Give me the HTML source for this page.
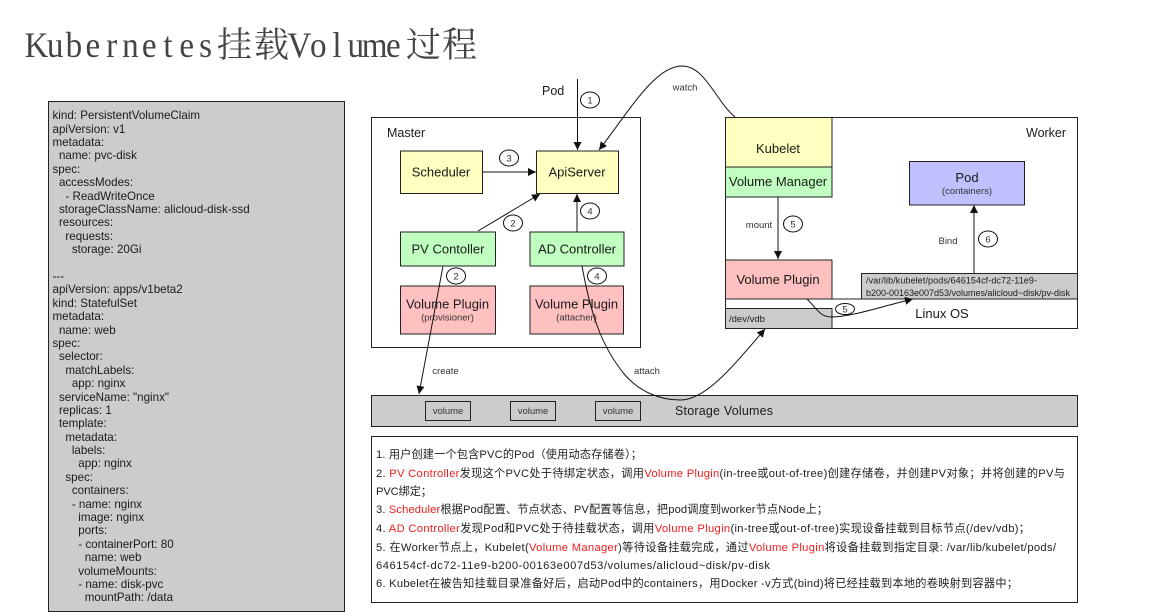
<!DOCTYPE html>
<html><head><meta charset="utf-8"><style>
html,body{margin:0;padding:0;background:#fff;width:1159px;height:615px;overflow:hidden}
svg{position:absolute;left:0;top:0}
text{font-family:"Liberation Sans","Noto Sans CJK SC",sans-serif;fill:#1a1a1a}
.b{stroke:#222;stroke-width:1;shape-rendering:crispEdges}
.l{fill:none;stroke:#111;stroke-width:1}
.t{font-size:13px;text-anchor:middle}
.s{font-size:9.5px;text-anchor:middle;fill:#333}
.n{font-size:9.5px;text-anchor:middle;fill:#333}
.c{fill:#fff;stroke:#111;stroke-width:1}
.p{font-size:11.2px;fill:#222}
.r{fill:#f01c1c}
pre{position:absolute;left:52.5px;top:109.3px;margin:0;font:11.6px/13.39px "Liberation Sans",sans-serif;color:#1a1a1a}
</style></head><body>
<svg width="1159" height="615" viewBox="0 0 1159 615" xmlns="http://www.w3.org/2000/svg">
<defs><marker id="a" markerWidth="9" markerHeight="8" refX="8" refY="4" orient="auto" markerUnits="userSpaceOnUse"><path d="M0 0L8 4L0 8Z" fill="#111"/></marker></defs>

<g transform="scale(.92 1)">
<text y="57" text-anchor="middle" style="font-family:'Liberation Serif',serif;font-size:36px;fill:#444" x="39.6 60 80.4 100.9 121.3 141.7 162.2 182.6 203 223.5">Kubernetes</text>
<text y="57" text-anchor="middle" style="font-family:'Liberation Serif',serif;font-size:36px;fill:#444" x="325.4 345.9 366.3 386.7 407.2 427.6">Volume</text>
</g>
<text x="217" y="57" textLength="72" style="font-family:'Noto Serif CJK SC',serif;font-size:35px;fill:#444">挂载</text>
<text x="406" y="57" textLength="71" style="font-family:'Noto Serif CJK SC',serif;font-size:35px;fill:#444">过程</text>

<rect class="b" x="48.5" y="101.5" width="296" height="510" fill="#ccc"/>

<rect class="b" x="371.5" y="117.5" width="269" height="230" fill="#fff"/>
<rect class="b" x="400.5" y="151" width="82" height="42.500" fill="#ffffc0"/>
<rect class="b" x="536.5" y="151" width="82" height="42.500" fill="#ffffc0"/>
<rect class="b" x="400.500" y="232" width="95" height="34" fill="#c0ffc0"/>
<rect class="b" x="530" y="232" width="94" height="34" fill="#c0ffc0"/>
<rect class="b" x="400.500" y="286" width="95" height="48" fill="#ffc0c0"/>
<rect class="b" x="530" y="286" width="93.500" height="48" fill="#ffc0c0"/>
<text x="387" y="137" font-size="12.500">Master</text>
<text class="t" x="441" y="176.500">Scheduler</text>
<text class="t" x="577" y="176.500">ApiServer</text>
<text class="t" x="448" y="253.500">PV Contoller</text>
<text class="t" x="577" y="253.500">AD Controller</text>
<text class="t" x="447.500" y="308.500">Volume Plugin</text>
<text class="s" x="447.500" y="320.500">(provisioner)</text>
<text class="t" x="576.500" y="308.500">Volume Plugin</text>
<text class="s" x="576.500" y="320.500">(attacher)</text>

<rect class="b" x="725.500" y="117.500" width="352" height="211" fill="#fff"/>
<rect class="b" x="725.500" y="117.500" width="106.500" height="49.500" fill="#ffffc0"/>
<rect class="b" x="725.500" y="167" width="106.500" height="30" fill="#c0ffc0"/>
<rect class="b" x="725.500" y="260" width="106.500" height="39" fill="#ffc0c0"/>
<rect class="b" x="725.500" y="308.500" width="106.500" height="20" fill="#ccc"/>
<line class="b" x1="832" y1="299" x2="1077" y2="299"/>
<rect class="b" x="861.500" y="273.500" width="216" height="25.500" fill="#ccc"/>
<rect class="b" x="909.500" y="161.500" width="115" height="43.500" fill="#c0c0ff"/>
<text x="1026" y="137" font-size="12.500">Worker</text>
<text class="t" x="778" y="153">Kubelet</text>
<text class="t" x="778" y="186">Volume Manager</text>
<text class="t" x="778" y="284">Volume Plugin</text>
<text x="729" y="322" font-size="9.500" fill="#333">/dev/vdb</text>
<text class="t" x="967" y="182">Pod</text>
<text class="s" x="967" y="194">(containers)</text>
<text x="866" y="283.500" font-size="9" textLength="171" style="font-family:'Liberation Sans',sans-serif">/var/lib/kubelet/pods/646154cf-dc72-11e9-</text>
<text x="866" y="296" font-size="9" textLength="204" style="font-family:'Liberation Sans',sans-serif">b200-00163e007d53/volumes/alicloud~disk/pv-disk</text>
<text class="t" x="942" y="318">Linux OS</text>

<rect class="b" x="371.500" y="395.500" width="706" height="31" fill="#ccc"/>
<rect class="b" x="425.500" y="401.500" width="45" height="19" fill="none"/>
<rect class="b" x="510.500" y="401.500" width="45" height="19" fill="none"/>
<rect class="b" x="595.500" y="401.500" width="45" height="19" fill="none"/>
<text class="n" x="448" y="414">volume</text>
<text class="n" x="533" y="414">volume</text>
<text class="n" x="618" y="414">volume</text>
<text x="675" y="415" font-size="12.500" textLength="98">Storage Volumes</text>

<path class="l" d="M577.500 79V150" marker-end="url(#a)"/>
<path class="l" d="M735 117C715 100 705 66 682 66C655 66 630 110 599 150" marker-end="url(#a)"/>
<path class="l" d="M482 172H536" marker-end="url(#a)"/>
<path class="l" d="M478 231L540 194" marker-end="url(#a)"/>
<path class="l" d="M577 232V194" marker-end="url(#a)"/>
<path class="l" d="M443 266L419 394" marker-end="url(#a)"/>
<path class="l" d="M582 266C590 310 600 345 625 375C640 392 660 400 680 400C705 400 730 370 765 329" marker-end="url(#a)"/>
<path class="l" d="M778 197V259" marker-end="url(#a)"/>
<path class="l" d="M974 273V205" marker-end="url(#a)"/>
<path class="l" d="M807 299C818 310 820 317 832 317C850 317 880 307 913 299" marker-end="url(#a)"/>

<ellipse class="c" cx="590" cy="100" rx="9.500" ry="8"/><text class="n" x="590" y="103.500">1</text>
<ellipse class="c" cx="509" cy="158" rx="9.500" ry="8"/><text class="n" x="509" y="161.500">3</text>
<ellipse class="c" cx="513" cy="223" rx="9.500" ry="8"/><text class="n" x="513" y="226.500">2</text>
<ellipse class="c" cx="590" cy="211" rx="9.500" ry="8"/><text class="n" x="590" y="214.500">4</text>
<ellipse class="c" cx="456" cy="276" rx="9.500" ry="8"/><text class="n" x="456" y="279.500">2</text>
<ellipse class="c" cx="597" cy="276" rx="9.500" ry="8"/><text class="n" x="597" y="279.500">4</text>
<ellipse class="c" cx="793" cy="224" rx="9.500" ry="8"/><text class="n" x="793" y="227.500">5</text>
<ellipse class="c" cx="988" cy="239" rx="9.500" ry="8"/><text class="n" x="988" y="242.500">6</text>
<ellipse class="c" cx="845" cy="309" rx="9.500" ry="5.500"/><text class="n" x="845" y="312.500">5</text>

<text x="542" y="95" font-size="12.500">Pod</text>
<text class="n" x="685" y="90.500">watch</text>
<text class="n" x="445.500" y="374">create</text>
<text class="n" x="647" y="374">attach</text>
<text class="n" x="759" y="228">mount</text>
<text class="n" x="948" y="244">Bind</text>

<rect class="b" x="371.500" y="436.500" width="706" height="166" fill="#fff"/>
<text class="p" x="376" y="458" textLength="266">1. 用户创建一个包含PVC的Pod（使用动态存储卷）；</text>
<text class="p" x="376" y="477" textLength="689">2. <tspan class="r">PV Controller</tspan>发现这个PVC处于待绑定状态，调用<tspan class="r">Volume Plugin</tspan>(in-tree或out-of-tree)创建存储卷，并创建PV对象；并将创建的PV与</text>
<text class="p" x="376" y="495" textLength="56">PVC绑定；</text>
<text class="p" x="376" y="513" textLength="452">3. <tspan class="r">Scheduler</tspan>根据Pod配置、节点状态、PV配置等信息，把pod调度到worker节点Node上；</text>
<text class="p" x="376" y="532" textLength="654">4. <tspan class="r">AD Controller</tspan>发现Pod和PVC处于待挂载状态，调用<tspan class="r">Volume Plugin</tspan>(in-tree或out-of-tree)实现设备挂载到目标节点(/dev/vdb)；</text>
<text class="p" x="376" y="551" textLength="680">5. 在Worker节点上，Kubelet(<tspan class="r">Volume Manager</tspan>)等待设备挂载完成，通过<tspan class="r">Volume Plugin</tspan>将设备挂载到指定目录: /var/lib/kubelet/pods/</text>
<text class="p" x="376" y="569" textLength="394">646154cf-dc72-11e9-b200-00163e007d53/volumes/alicloud~disk/pv-disk</text>
<text class="p" x="376" y="587" textLength="642">6. Kubelet在被告知挂载目录准备好后，启动Pod中的containers，用Docker -v方式(bind)将已经挂载到本地的卷映射到容器中；</text>
</svg>
<pre>kind: PersistentVolumeClaim
apiVersion: v1
metadata:
  name: pvc-disk
spec:
  accessModes:
    - ReadWriteOnce
  storageClassName: alicloud-disk-ssd
  resources:
    requests:
      storage: 20Gi

---
apiVersion: apps/v1beta2
kind: StatefulSet
metadata:
  name: web
spec:
  selector:
    matchLabels:
      app: nginx
  serviceName: "nginx"
  replicas: 1
  template:
    metadata:
      labels:
        app: nginx
    spec:
      containers:
      - name: nginx
        image: nginx
        ports:
        - containerPort: 80
          name: web
        volumeMounts:
        - name: disk-pvc
          mountPath: /data</pre>
</body></html>
